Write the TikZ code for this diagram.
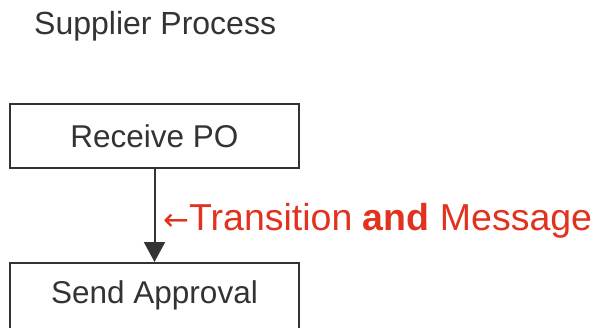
\documentclass[tikz,border=0pt]{standalone}
\usepackage{fontspec}
\setmainfont{Liberation Sans}
\newfontfamily\arrowfont{DejaVu Sans}
\usetikzlibrary{arrows.meta}
\definecolor{ink}{HTML}{333333}
\definecolor{accent}{HTML}{E0321E}
\begin{document}
\begin{tikzpicture}[x=1pt,y=-1pt,
  stepbox/.style={draw=ink,line width=2pt,minimum width=289pt,text=ink,font=\fontsize{31.5}{36}\selectfont,inner sep=0pt},
  flow/.style={draw=ink,line width=2pt,-{Triangle[length=20pt,width=21pt]}}]
\useasboundingbox (0,0) rectangle (596,327);
\clip (0,0) rectangle (596,327);
\node[text=ink,font=\fontsize{32}{36}\selectfont,anchor=base west,inner sep=0pt] (title) at (34,34) {Supplier Process};
\node[stepbox,minimum height=64pt] (recv) at (154.5,136) {Receive PO};
\node[stepbox,minimum height=76pt,text depth=0pt] (send) at (154.5,301) {};
\node[text=ink,font=\fontsize{31.5}{36}\selectfont] (sendlbl) at (154.5,295) {Send Approval};
\draw[flow] (recv.south) -- (send.north);
\node[anchor=base west,text=accent,font=\fontsize{37.5}{42}\selectfont,inner sep=0pt] (msg) at (163,230)
  {{\arrowfont\fontsize{31}{36}\selectfont ←}Transition \textbf{and} Message};
\end{tikzpicture}
\end{document}
